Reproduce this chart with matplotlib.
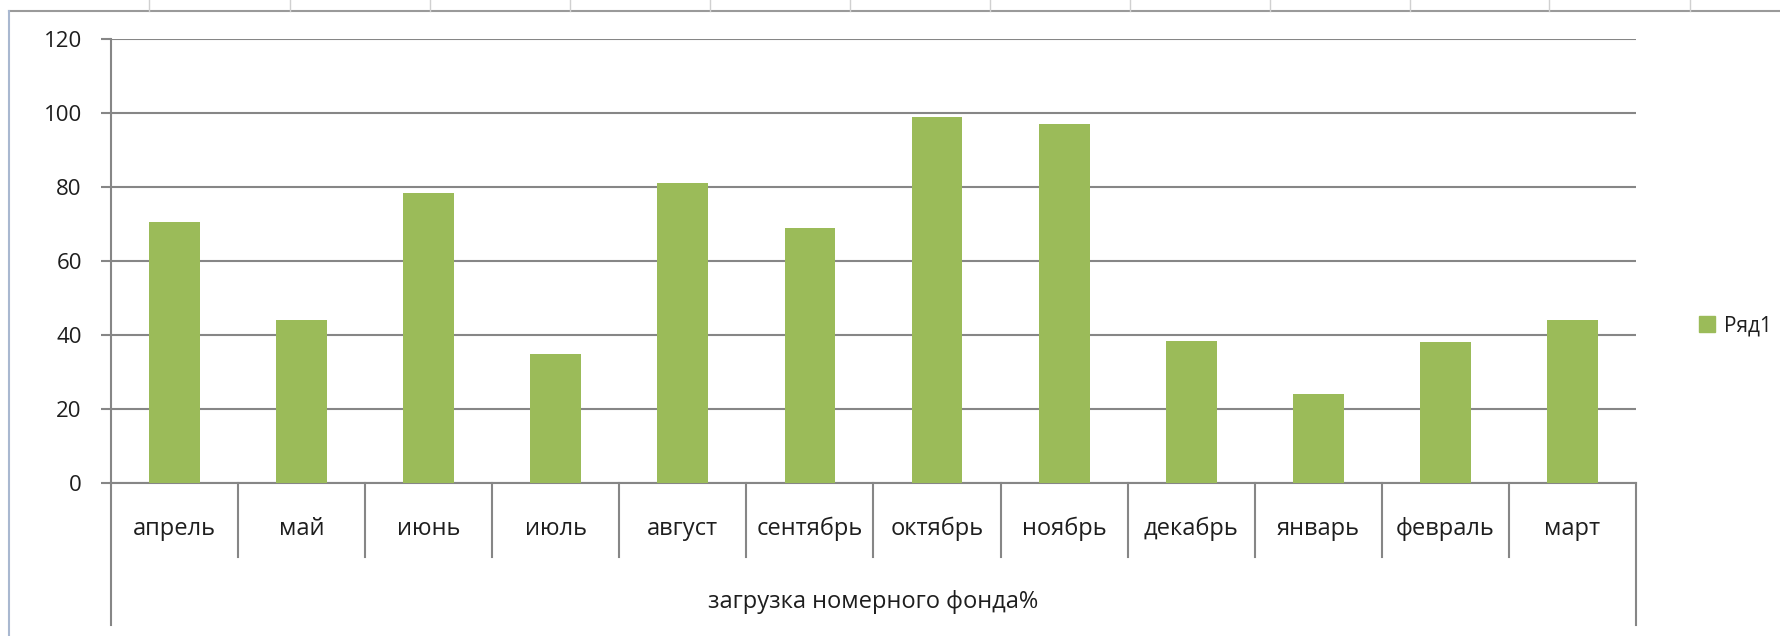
import numpy as np
import matplotlib.pyplot as plt
from matplotlib.lines import Line2D
from matplotlib.patches import Patch

months = ["апрель", "май", "июнь", "июль", "август", "сентябрь",
          "октябрь", "ноябрь", "декабрь", "январь", "февраль", "март"]
load = [70.5, 44, 78.5, 35, 81, 69, 99, 97, 38.5, 24, 38, 44]
group_label = "загрузка номерного фонда%"
series_name = "Ряд1"

plt.rcParams['font.family'] = ['Open Sans', 'DejaVu Sans']

W, H = 1781, 636
fig = plt.figure(figsize=(W / 100, H / 100), dpi=100)
fig.patch.set_facecolor('white')

# spreadsheet frame behind the chart
fig.add_artist(Line2D([9 / W, 1], [1 - 11 / H, 1 - 11 / H], color='#9a9a9a', lw=1.5))
fig.add_artist(Line2D([9 / W, 9 / W], [0, 1 - 11 / H], color='#a9b8d0', lw=1.5))
for px in [149, 290, 430, 570, 710, 850, 990, 1130, 1270, 1410, 1549, 1690]:
    fig.add_artist(Line2D([px / W, px / W], [1 - 11 / H, 1], color='#d0d0d0', lw=1))

x0, x1, ytop, ybot = 111, 1636, 39, 483
ax = fig.add_axes([x0 / W, 1 - ybot / H, (x1 - x0) / W, (ybot - ytop) / H])

x = np.arange(len(months))
ax.bar(x, load, width=0.4, color='#9bbb59', lw=0, zorder=3, label=series_name)

gray = '#868686'
txt = '#1e1e1e'
ax.set_xlim(-0.5, len(months) - 0.5)
ax.set_ylim(0, 120)
ax.set_yticks(range(0, 121, 20))
ax.yaxis.grid(True, color=gray, lw=1.5)
ax.set_axisbelow(True)
for s in ['top', 'right']:
    ax.spines[s].set_visible(False)
ax.spines['left'].set_color(gray)
ax.spines['left'].set_linewidth(1.5)
ax.spines['bottom'].set_color(gray)
ax.spines['bottom'].set_linewidth(1.5)
ax.tick_params(axis='y', length=7, width=1.5, color=gray, labelsize=16,
               labelcolor=txt, pad=14)
ax.set_xticks([])

# two-level category axis
trans = ax.get_xaxis_transform()
short = -(557 - ybot) / (ybot - ytop)
long_ = -(625 - ybot) / (ybot - ytop)
for k in range(len(months) + 1):
    bottom = long_ if k in (0, len(months)) else short
    ax.plot([k - 0.5, k - 0.5], [0, bottom], color=gray, lw=1.5,
            transform=trans, clip_on=False)
for i, m in enumerate(months):
    ax.text(i, -(529 - ybot) / (ybot - ytop), m, transform=trans,
            ha='center', va='center', fontsize=17, color=txt)
ax.text((len(months) - 1) / 2, -(602 - ybot) / (ybot - ytop), group_label,
        transform=trans, ha='center', va='center', fontsize=17, color=txt)

fig.legend(handles=[Patch(color='#9bbb59', label=series_name)],
           loc='center left', bbox_to_anchor=(1680 / W, 1 - 326 / H),
           frameon=False, fontsize=15, handlelength=0.8, handleheight=0.8,
           handletextpad=0.4, labelcolor=txt)

fig.savefig('out.png', dpi=100)
